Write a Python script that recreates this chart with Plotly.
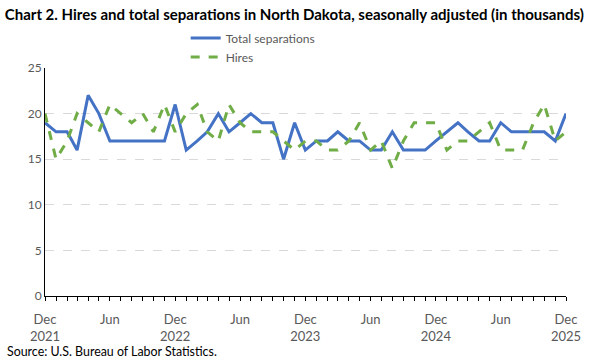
import pandas as pd
import plotly.graph_objects as go

FONT = "Lato"
GREY = "#595959"

months = pd.date_range("2021-12-01", periods=49, freq="MS")

separations = [19, 18, 18, 16, 22, 20, 17, 17, 17, 17, 17, 17, 21,
               16, 17, 18, 20, 18, 19, 20, 19, 19, 15, 19, 16,
               17, 17, 18, 17, 17, 16, 16, 18, 16, 16, 16, 17,
               18, 19, 18, 17, 17, 19, 18, 18, 18, 18, 17, 20]

hires = [20, 15, 17, 20, 19, 18, 21, 20, 19, 20, 18, 21, 18,
         20, 21, 18, 17, 21, 19, 18, 18, 18, 17, 16, 17,
         17, 16, 16, 17, 19, 16, 17, 14, 17, 19, 19, 19,
         16, 17, 17, 18, 19, 16, 16, 16, 19, 21, 17, 18]

tick_dates = ["2021-12-01", "2022-06-01", "2022-12-01", "2023-06-01",
              "2023-12-01", "2024-06-01", "2024-12-01", "2025-06-01",
              "2025-12-01"]
tick_labels = ["Dec<br>2021", "Jun", "Dec<br>2022", "Jun", "Dec<br>2023",
               "Jun", "Dec<br>2024", "Jun", "Dec<br>2025"]

fig = go.Figure()
fig.add_trace(go.Scatter(x=months, y=separations, mode="lines",
                         name="Total separations",
                         line=dict(color="#4472C4", width=3)))
fig.add_trace(go.Scatter(x=months, y=hires, mode="lines", name="Hires",
                         line=dict(color="#70AD47", width=3, dash="dash")))

fig.update_layout(
    width=600, height=360,
    margin=dict(l=45, r=34, t=68, b=64),
    plot_bgcolor="white", paper_bgcolor="white",
    font=dict(family=FONT, size=12, color=GREY),
    title=dict(text="<b>Chart 2. Hires and total separations in North Dakota, "
                    "seasonally adjusted (in thousands)</b>",
               x=0.008, xanchor="left", y=0.96, yanchor="middle",
               font=dict(family=FONT, size=15, color="black")),
    legend=dict(x=0.27, xanchor="left", y=0.985, yanchor="bottom",
                orientation="v", font=dict(size=12, color=GREY),
                bgcolor="rgba(0,0,0,0)", tracegroupgap=0),
    showlegend=True,
)

fig.update_xaxes(
    range=["2021-12-01", "2025-12-01"],
    tickvals=tick_dates, ticktext=tick_labels,
    showline=True, linecolor="black", linewidth=1,
    ticks="outside", ticklen=4, tickcolor="black",
    minor=dict(ticks="outside", dtick="M1", ticklen=4, tickcolor="black"),
    showgrid=False, tickangle=0, ticklabelstandoff=7,
    tickfont=dict(size=13),
)
fig.update_yaxes(
    range=[0, 25], dtick=5,
    showline=True, linecolor="black", linewidth=1,
    showgrid=True, gridcolor="#D9D9D9", griddash="dash", gridwidth=1,
    zeroline=False, ticks="",
)

fig.add_annotation(text="Source: U.S. Bureau of Labor Statistics.",
                   xref="paper", yref="paper", x=-0.077, y=-0.245,
                   xanchor="left", yanchor="middle", showarrow=False,
                   font=dict(family=FONT, size=12.4, color="black"))

# drop the page's default body margin so the figure sits at the top-left
fig.write_html("out.html", config={"displayModeBar": False},
               post_script="document.body.style.margin='0';")
